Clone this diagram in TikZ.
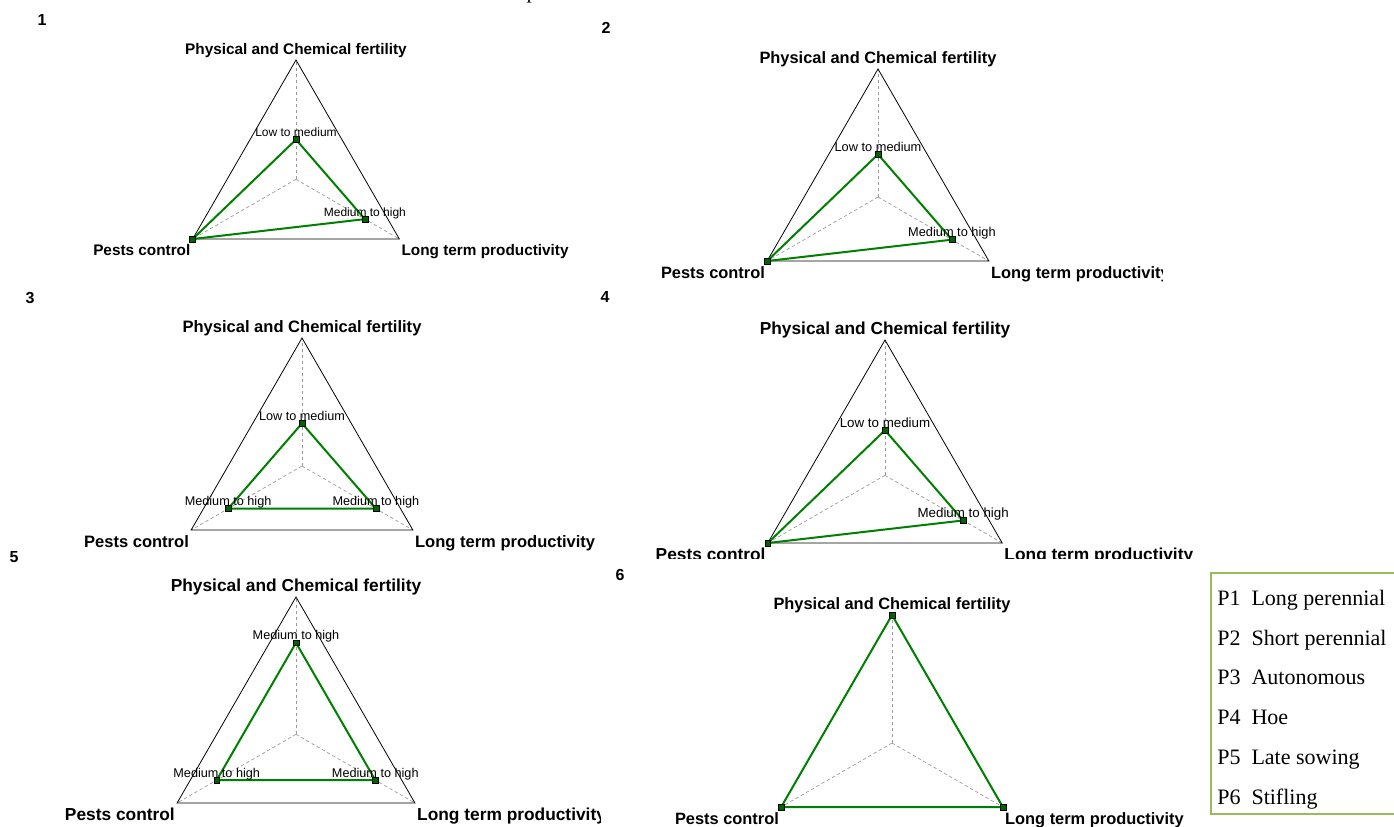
\documentclass[tikz,border=0pt]{standalone}
\usepackage{fontspec}
\setmainfont{Liberation Sans}
\newfontfamily\legendfont{Liberation Serif}
\usetikzlibrary{calc}

\definecolor{seriesgreen}{HTML}{008000}
\definecolor{markgreen}{HTML}{006400}
\definecolor{legendframe}{HTML}{9BBB59}

\def\labsize{12}
\def\valsize{9.5}

\tikzset{
  frame/.style={draw=black, line width=0.6pt, line join=miter},
  spoke/.style={draw=gray!80, line width=0.5pt, dash pattern=on 2.5pt off 2pt},
  series/.style={draw=seriesgreen, line width=1.5pt, line join=round},
  marker/.style={rectangle, draw=black, fill=markgreen, line width=0.4pt,
                 minimum size=4.4pt, inner sep=0pt},
  axislabel/.style={inner sep=0pt, font=\bfseries\fontsize{\labsize}{\labsize}\selectfont},
  valuelabel/.style={inner sep=0pt, anchor=base, font=\fontsize{\valsize}{\valsize}\selectfont},
  panelnum/.style={inner sep=0pt, font=\bfseries\fontsize{12}{12}\selectfont},
  legendtext/.style={inner sep=0pt, anchor=base west, font=\legendfont\fontsize{16.5}{16.5}\selectfont},
}

% #1 name, #2 apex x, #3 apex y, #4 height,
% #5 #6 #7 levels on the top, right and left axes (0..1)
\newcommand\radarpanel[7]{%
  \coordinate (#1-a) at (#2,#3);
  \coordinate (#1-l) at ({#2-0.57735*#4},{#3+#4});
  \coordinate (#1-r) at ({#2+0.57735*#4},{#3+#4});
  \coordinate (#1-o) at (#2,{#3+2*#4/3});
  \coordinate (#1-pa) at ($(#1-o)!#5!(#1-a)$);
  \coordinate (#1-pr) at ($(#1-o)!#6!(#1-r)$);
  \coordinate (#1-pl) at ($(#1-o)!#7!(#1-l)$);
  \draw[spoke] (#1-o) -- (#1-a);
  \draw[spoke] (#1-o) -- (#1-l);
  \draw[spoke] (#1-o) -- (#1-r);
  \draw[frame] (#1-a) -- (#1-l) -- (#1-r) -- cycle;
  \draw[series] (#1-pa) -- (#1-pr) -- (#1-pl) -- cycle;
  \node[marker] (#1-ma) at (#1-pa) {};
  \node[marker] (#1-mr) at (#1-pr) {};
  \node[marker] (#1-ml) at (#1-pl) {};
  \node[axislabel, anchor=base] (#1-ta) at ($(#1-a)+(0,-6)$) {Physical and Chemical fertility};
  \node[axislabel, anchor=north east] (#1-tl) at ($(#1-l)+(-2,5)$) {Pests control};
  \node[axislabel, anchor=north west] (#1-tr) at ($(#1-r)+(2,5)$) {Long term productivity};
}

\begin{document}
\begin{tikzpicture}[x=0.75pt,y=-0.75pt]
\useasboundingbox (0,0) rectangle (1394,826);
\clip (0,0) rectangle (1394,826);

% tail of a letter from the line above
\node[inner sep=0pt, anchor=base, font=\legendfont\fontsize{16}{16}\selectfont] (toptail) at (532,-1.5) {p};

% panel 1
\begin{scope}
  \clip (0,0) rectangle (600,285);
  \def\labsize{11.5}\def\valsize{9}
  \node[panelnum] (n1) at (42,20) {1};
  \radarpanel{p1}{296}{60}{179}{0.3333}{0.6667}{1}
  \node[valuelabel] (p1-va) at ($(p1-pa)+(0,-3)$) {Low to medium};
  \node[valuelabel] (p1-vr) at ($(p1-pr)+(0,-3)$) {Medium to high};
\end{scope}

% panel 2
\begin{scope}
  \clip (600,0) rectangle (1162,290);
  \def\labsize{12.3}\def\valsize{9.6}
  \node[panelnum] (n2) at (606,28) {2};
  \radarpanel{p2}{878}{69}{192}{0.3333}{0.6667}{1}
  \node[valuelabel] (p2-va) at ($(p2-pa)+(0,-3)$) {Low to medium};
  \node[valuelabel] (p2-vr) at ($(p2-pr)+(0,-3)$) {Medium to high};
\end{scope}

% panel 3
\begin{scope}
  \clip (0,285) rectangle (600,560);
  \def\labsize{12.4}\def\valsize{9.5}
  \node[panelnum] (n3) at (30,298) {3};
  \radarpanel{p3}{302}{338}{192}{0.3333}{0.6667}{0.6667}
  \node[valuelabel] (p3-va) at ($(p3-pa)+(0,-3)$) {Low to medium};
  \node[valuelabel] (p3-vr) at ($(p3-pr)+(0,-3)$) {Medium to high};
  \node[valuelabel] (p3-vl) at ($(p3-pl)+(0,-3)$) {Medium to high};
\end{scope}

% panel 4 (its bottom labels are cut at the baseline)
\begin{scope}
  \clip (600,285) rectangle (1200,558.5);
  \def\labsize{13}\def\valsize{10}
  \node[panelnum] (n4) at (605,297) {4};
  \radarpanel{p4}{885}{340}{203}{0.3333}{0.6667}{1}
  \node[valuelabel] (p4-va) at ($(p4-pa)+(0,-3)$) {Low to medium};
  \node[valuelabel] (p4-vr) at ($(p4-pr)+(0,-3)$) {Medium to high};
\end{scope}

% panel 5
\begin{scope}
  \clip (0,545) rectangle (600,826);
  \def\labsize{13}\def\valsize{9.5}
  \node[panelnum] (n5) at (14,557) {5};
  \radarpanel{p5}{296}{597}{206}{0.6667}{0.6667}{0.6667}
  \node[valuelabel] (p5-va) at ($(p5-pa)+(0,-3)$) {Medium to high};
  \node[valuelabel] (p5-vr) at ($(p5-pr)+(0,-3)$) {Medium to high};
  \node[valuelabel] (p5-vl) at ($(p5-pl)+(0,-3)$) {Medium to high};
\end{scope}

% panel 6
\begin{scope}
  \clip (600,560) rectangle (1200,826);
  \def\labsize{12.3}\def\valsize{9.5}
  \node[panelnum] (n6) at (620,575) {6};
  \radarpanel{p6}{892}{615}{192}{1}{1}{1}
\end{scope}

% legend
\draw[draw=legendframe, line width=1.5pt] (1400,573) -- (1211,573) -- (1211,814) -- (1400,814);
\node[legendtext] (k1) at (1217,605) {P1\ \ Long perennial};
\node[legendtext] (k2) at (1217,645) {P2\ \ Short perennial};
\node[legendtext] (k3) at (1217,684) {P3\ \ Autonomous};
\node[legendtext] (k4) at (1217,724) {P4\ \ Hoe};
\node[legendtext] (k5) at (1217,764) {P5\ \ Late sowing};
\node[legendtext] (k6) at (1217,804) {P6\ \ Stifling};
\end{tikzpicture}
\end{document}
